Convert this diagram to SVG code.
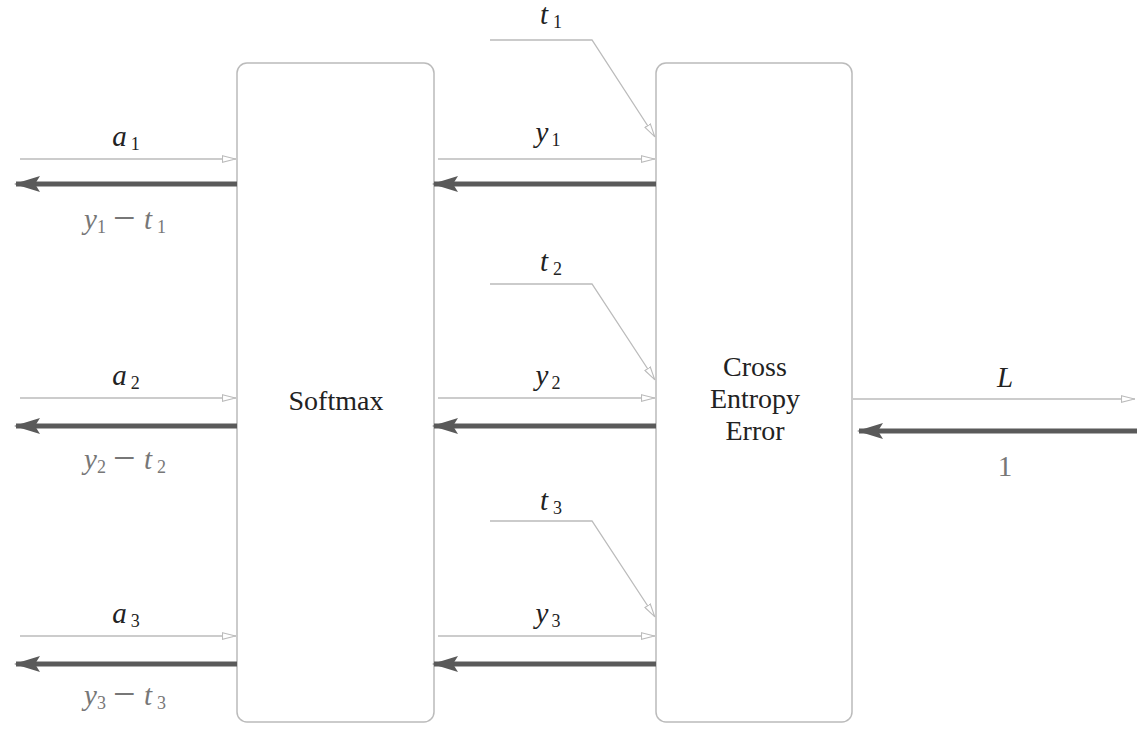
<svg xmlns="http://www.w3.org/2000/svg" width="1146" height="738" viewBox="0 0 1146 738">
<style>
.box{fill:#fff;stroke:#bbb;stroke-width:1.5}
.thin{fill:none;stroke:#bbb;stroke-width:1.3}
.thick{fill:none;stroke:#5a5a5a;stroke-width:5}
text{font-family:"Liberation Serif","DejaVu Serif",serif}
.lbl{font-style:italic;font-size:29px;fill:#222;text-anchor:middle}
.glbl{font-style:italic;font-size:29px;fill:#777}
.sub{font-style:normal;font-size:18px}
.minus{font-style:normal;font-size:40px}
.name{font-size:28px;fill:#222;text-anchor:middle}
</style>
<defs>
<marker id="open" viewBox="0 0 14 8" refX="14" refY="4" markerWidth="14" markerHeight="8" markerUnits="userSpaceOnUse" orient="auto">
<path d="M0.5,0.8 L13.5,4 L0.5,7.2 Z" fill="#fff" stroke="#bbb" stroke-width="1.1"/>
</marker>
<marker id="solid" viewBox="0 0 26 16" refX="24" refY="8" markerWidth="26" markerHeight="16" markerUnits="userSpaceOnUse" orient="auto">
<path d="M0,0 L26,8 L0,16 L5,8 Z" fill="#5a5a5a"/>
</marker>
</defs>
<g id="softmax">
<rect class="box" x="237" y="63" width="197" height="659" rx="10"/>
<text class="name" x="336" y="410">Softmax</text>
</g>
<g id="cross-entropy">
<rect class="box" x="656" y="63" width="196" height="659" rx="10"/>
<text class="name" x="755" y="376">Cross</text>
<text class="name" x="755" y="408">Entropy</text>
<text class="name" x="755" y="440">Error</text>
</g>
<g id="connectors">
<line class="thin" x1="20" y1="159" x2="236" y2="159" marker-end="url(#open)"/>
<line class="thick" x1="237" y1="184" x2="16" y2="184" marker-end="url(#solid)"/>
<line class="thin" x1="20" y1="398" x2="236" y2="398" marker-end="url(#open)"/>
<line class="thick" x1="237" y1="426" x2="16" y2="426" marker-end="url(#solid)"/>
<line class="thin" x1="20" y1="636" x2="236" y2="636" marker-end="url(#open)"/>
<line class="thick" x1="237" y1="664" x2="16" y2="664" marker-end="url(#solid)"/>

<line class="thin" x1="438" y1="159" x2="655" y2="159" marker-end="url(#open)"/>
<line class="thick" x1="656" y1="184" x2="434" y2="184" marker-end="url(#solid)"/>
<line class="thin" x1="438" y1="398" x2="655" y2="398" marker-end="url(#open)"/>
<line class="thick" x1="656" y1="426" x2="434" y2="426" marker-end="url(#solid)"/>
<line class="thin" x1="438" y1="636" x2="655" y2="636" marker-end="url(#open)"/>
<line class="thick" x1="656" y1="664" x2="434" y2="664" marker-end="url(#solid)"/>

<polyline class="thin" points="490,40 592,40 655,137" marker-end="url(#open)"/>
<polyline class="thin" points="490,284 592,284 655,380" marker-end="url(#open)"/>
<polyline class="thin" points="490,521 592,521 655,617" marker-end="url(#open)"/>

<line class="thin" x1="853" y1="399" x2="1135" y2="399" marker-end="url(#open)"/>
<line class="thick" x1="1137" y1="431" x2="859" y2="431" marker-end="url(#solid)"/>
</g>
<g id="labels">
<text class="lbl" x="126" y="146">a<tspan class="sub" dx="4" dy="4">1</tspan></text>
<text class="glbl" x="84" y="229">y<tspan class="sub" dy="4">1</tspan><tspan class="minus" x="113" dy="-2">−</tspan><tspan x="144" dy="-2">t</tspan><tspan class="sub" dx="5" dy="4">1</tspan></text>
<text class="lbl" x="126" y="385">a<tspan class="sub" dx="4" dy="4">2</tspan></text>
<text class="glbl" x="84" y="469">y<tspan class="sub" dy="4">2</tspan><tspan class="minus" x="113" dy="-2">−</tspan><tspan x="144" dy="-2">t</tspan><tspan class="sub" dx="5" dy="4">2</tspan></text>
<text class="lbl" x="126" y="623">a<tspan class="sub" dx="4" dy="4">3</tspan></text>
<text class="glbl" x="84" y="705">y<tspan class="sub" dy="4">3</tspan><tspan class="minus" x="113" dy="-2">−</tspan><tspan x="144" dy="-2">t</tspan><tspan class="sub" dx="5" dy="4">3</tspan></text>

<text class="lbl" x="548" y="142">y<tspan class="sub" dx="3" dy="4">1</tspan></text>
<text class="lbl" x="548" y="385">y<tspan class="sub" dx="3" dy="4">2</tspan></text>
<text class="lbl" x="548" y="623">y<tspan class="sub" dx="3" dy="4">3</tspan></text>

<text class="lbl" x="551" y="24">t<tspan class="sub" dx="5" dy="4">1</tspan></text>
<text class="lbl" x="551" y="271">t<tspan class="sub" dx="5" dy="4">2</tspan></text>
<text class="lbl" x="551" y="510">t<tspan class="sub" dx="5" dy="4">3</tspan></text>

<text class="lbl" x="1005" y="387">L</text>
<text class="glbl" x="1005" y="476" style="font-style:normal;text-anchor:middle">1</text>
</g>
</svg>
